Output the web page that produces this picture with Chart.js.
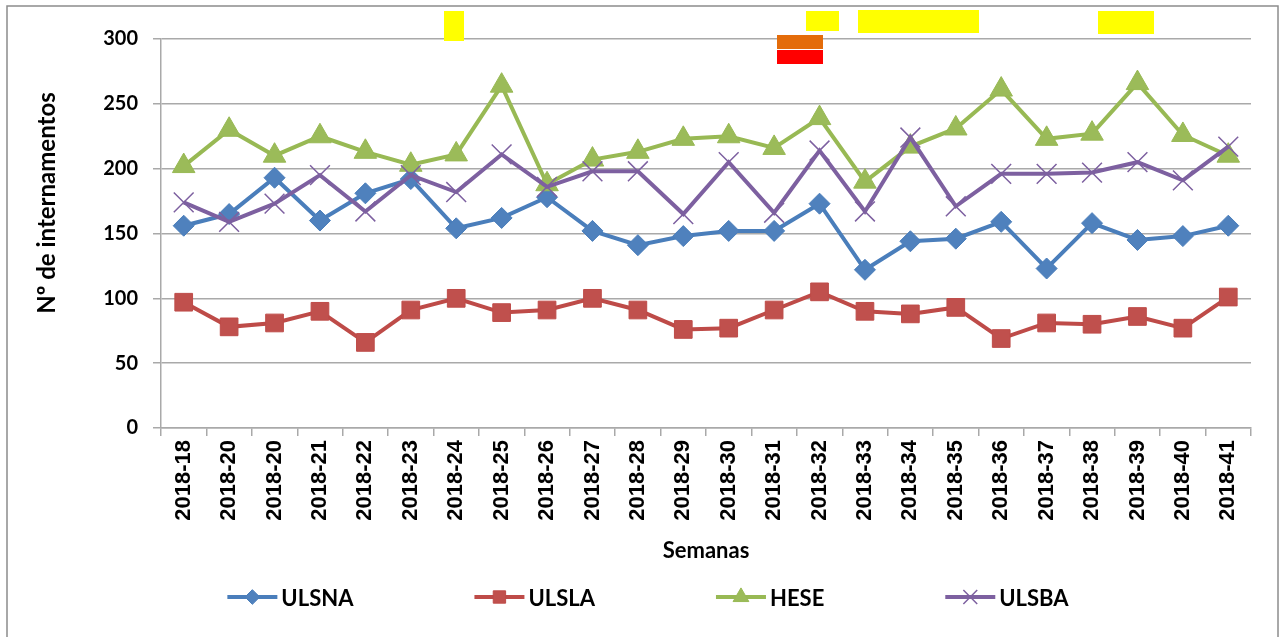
<!DOCTYPE html>
<html>
<head>
<meta charset="utf-8">
<script src="https://cdn.jsdelivr.net/npm/chart.js@4.4.1/dist/chart.umd.min.js"></script>
<style>
  html, body { margin: 0; padding: 0; background: #ffffff; }
  #wrap { width: 1281px; height: 637px; position: relative; }
</style>
</head>
<body>
<div id="wrap"><canvas id="c" width="1281" height="637"></canvas></div>
<script>
// Weekly admissions per hospital unit
const semanas = ['2018-18','2018-20','2018-20','2018-21','2018-22','2018-23','2018-24','2018-25',
                 '2018-26','2018-27','2018-28','2018-29','2018-30','2018-31','2018-32','2018-33',
                 '2018-34','2018-35','2018-36','2018-37','2018-38','2018-39','2018-40','2018-41'];
const ulsna = [156,165,193,160,181,192,154,162,178,152,141,148,152,152,173,122,144,146,159,123,158,145,148,156];
const ulsla = [97,78,81,90,66,91,100,89,91,100,91,76,77,91,105,90,88,93,69,81,80,86,77,101];
const hese  = [202,230,210,225,213,203,211,264,188,207,213,223,225,216,239,190,217,231,261,223,227,266,226,210];
const ulsba = [174,159,173,195,167,195,182,211,186,198,198,165,205,166,214,167,224,171,196,196,197,205,191,217];
const yTicks = [0, 50, 100, 150, 200, 250, 300];

const GRID = '#a9a9a9';

// White background and outer frame
const framePlugin = {
  id: 'frame',
  beforeDraw(chart) {
    const ctx = chart.ctx;
    ctx.save();
    ctx.fillStyle = '#ffffff';
    ctx.fillRect(0, 0, chart.width, chart.height);
    ctx.strokeStyle = '#8c8c8c';
    ctx.lineWidth = 1.5;
    ctx.strokeRect(7, 6, 1271, 700);
    ctx.restore();
  }
};

// Coloured alert boxes, rotated y-axis title and the bottom legend (line + marker + name)
const extrasPlugin = {
  id: 'extras',
  afterDraw(chart) {
    const ctx = chart.ctx;
    ctx.save();
    const boxes = [
      ['#ffff00', 444, 11, 20, 30],
      ['#ffff00', 806, 11, 33, 20],
      ['#ffff00', 858, 10, 121, 23],
      ['#ffff00', 1098, 11, 56, 23],
      ['#e46c0a', 777, 35, 46, 14],
      ['#ff0000', 777, 50, 46, 14]
    ];
    boxes.forEach(([c, x, y, w, h]) => { ctx.fillStyle = c; ctx.fillRect(x, y, w, h); });
    ctx.restore();

    ctx.save();
    ctx.translate(47, 203);
    ctx.rotate(-Math.PI / 2);
    ctx.font = 'bold 24px Lato';
    ctx.fillStyle = '#000000';
    ctx.textAlign = 'center';
    ctx.textBaseline = 'middle';
    ctx.fillText('Nº de internamentos', 0, 0);
    ctx.restore();

    ctx.save();
    ctx.font = 'bold 22px Lato';
    const y = 597;
    const lineLen = 50, textGap = 4, gap = 121;
    const items = chart.data.datasets.map(ds => ({ ds, w: lineLen + textGap + ctx.measureText(ds.label).width }));
    const total = items.reduce((s, it) => s + it.w, 0) + gap * (items.length - 1);
    let x = 648 - total / 2;
    items.forEach(({ ds, w }) => {
      ctx.strokeStyle = ds.borderColor;
      ctx.lineWidth = 4;
      ctx.beginPath();
      ctx.moveTo(x, y);
      ctx.lineTo(x + lineLen, y);
      ctx.stroke();
      ctx.fillStyle = ds.pointBackgroundColor;
      ctx.strokeStyle = ds.pointBorderColor;
      ctx.lineWidth = ds.pointBorderWidth;
      Chart.helpers.drawPoint(ctx, {
        pointStyle: ds.pointStyle,
        radius: ds.pointRadius * 0.7,
        rotation: 0,
        borderWidth: ds.pointBorderWidth
      }, x + lineLen / 2, y);
      ctx.fillStyle = '#000000';
      ctx.textAlign = 'left';
      ctx.textBaseline = 'middle';
      ctx.fillText(ds.label, x + lineLen + textGap, y + 2);
      x += w + gap;
    });
    ctx.restore();
  }
};

function series(label, data, line, fill, style, radius, bw, order) {
  return {
    label, data, order,
    borderColor: line, backgroundColor: fill,
    borderWidth: 4, tension: 0,
    pointStyle: style, pointRadius: radius, pointHoverRadius: radius,
    pointBackgroundColor: fill, pointBorderColor: line, pointBorderWidth: bw
  };
}

new Chart(document.getElementById('c'), {
  type: 'line',
  data: {
    labels: semanas,
    datasets: [
      series('ULSNA', ulsna, '#4a7ebb', '#4f81bd', 'rectRot', 10.5, 1, 4),
      series('ULSLA', ulsla, '#be4b48', '#c0504d', 'rect', 12.5, 1, 3),
      series('HESE', hese, '#98b954', '#9bbb59', 'triangle', 13, 1, 2),
      series('ULSBA', ulsba, '#7d60a0', '#8064a2', 'crossRot', 14, 1.5, 1)
    ]
  },
  options: {
    responsive: false,
    animation: false,
    devicePixelRatio: 1,
    layout: { padding: { left: 33, right: 30, top: 39, bottom: 62 } },
    plugins: { legend: { display: false }, tooltip: { enabled: false } },
    scales: {
      x: {
        offset: true,
        afterFit(scale) { scale.height = 147; },
        grid: { display: true, drawOnChartArea: false, drawTicks: true, tickLength: 8, offset: true, color: GRID, lineWidth: 1.5 },
        border: { display: true, color: GRID, width: 1.5 },
        ticks: {
          autoSkip: false, minRotation: 90, maxRotation: 90, padding: 4,
          color: '#000000', font: { family: 'Liberation Sans', weight: 'bold', size: 22 }
        },
        title: {
          display: true, text: 'Semanas', color: '#000000',
          font: { family: 'Lato', weight: 'bold', size: 22 },
          padding: { top: 0, bottom: 11 }
        }
      },
      y: {
        min: 0, max: 300,
        afterFit(scale) { scale.width = 128; },
        afterBuildTicks(scale) { scale.ticks = yTicks.map(v => ({ value: v })); },
        grid: { color: GRID, lineWidth: 1.5, tickLength: 8, drawTicks: true },
        border: { display: true, color: GRID, width: 1.5 },
        ticks: {
          padding: 15, color: '#000000',
          font: { family: 'Lato', weight: 'bold', size: 20 }
        }
      }
    }
  },
  plugins: [framePlugin, extrasPlugin]
});
</script>
</body>
</html>
